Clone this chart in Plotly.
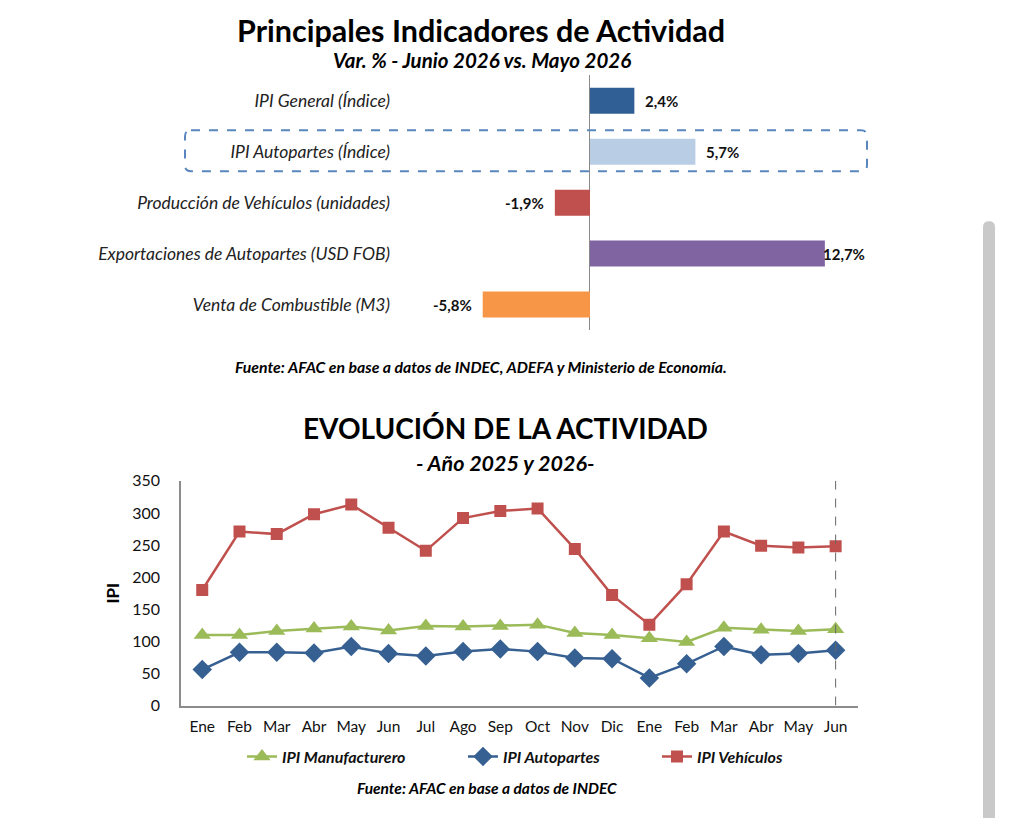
import plotly.graph_objects as go

# the photo keeps an 8px page margin left and ~18px on top and squeezes height a bit
W, H = 998, 819
XOFF, YOFF, YSCALE = 8, 18, 0.978

# --- top chart data: Var. % Junio 2026 vs Mayo 2026
indicadores = [
    "IPI General (Índice)",
    "IPI Autopartes (Índice)",
    "Producción de Vehículos (unidades)",
    "Exportaciones de Autopartes (USD FOB)",
    "Venta de Combustible (M3)",
]
variaciones = [2.4, 5.7, -1.9, 12.7, -5.8]
bar_colors = ["#2F5F95", "#B9CDE5", "#C0504D", "#8064A2", "#F79646"]

# --- bottom chart data: monthly IPI 2025-2026
meses = ["Ene", "Feb", "Mar", "Abr", "May", "Jun", "Jul", "Ago", "Sep", "Oct",
         "Nov", "Dic", "Ene", "Feb", "Mar", "Abr", "May", "Jun"]
ipi_manufacturero = [110, 110, 116, 120, 123, 117, 124, 123, 124, 126,
                     113, 110, 105, 99, 121, 118, 116, 119]
ipi_autopartes = [56, 83, 83, 82, 92, 81, 77, 84, 88, 84,
                  74, 73, 43, 65, 92, 79, 81, 86]
ipi_vehiculos = [180, 271, 267, 298, 313, 277, 241, 292, 303, 307,
                 244, 172, 126, 189, 271, 249, 246, 248]


def px(x):
    # screen pixel -> paper fraction
    return (x - XOFF) / W


def py(y):
    return 1 - (y / YSCALE - YOFF) / H


FONT = "Lato"
fig = go.Figure()

# top bars
fig.add_trace(go.Bar(
    x=variaciones, y=indicadores, orientation="h",
    marker=dict(color=bar_colors, line_width=0),
    xaxis="x", yaxis="y", showlegend=False, hoverinfo="x+y",
))

# value labels next to bars
for v, name in zip(variaciones, indicadores):
    lbl = f"{v:.1f}%".replace(".", ",")
    fig.add_annotation(
        x=v, y=name, xref="x", yref="y", text=f"<b>{lbl}</b>",
        showarrow=False, xanchor="left" if v >= 0 else "right",
        xshift=(9 if v < 10 else -4) if v >= 0 else -9,
        font=dict(family=FONT, size=15, color="#111"),
    )

# bottom lines, each with its own legend so entries sit where the original has them
x_idx = list(range(len(meses)))
series = [
    ("IPI Manufacturero", ipi_manufacturero, "#9BBB59", "triangle-up", 15, "legend", 248),
    ("IPI Autopartes", ipi_autopartes, "#376092", "diamond", 15, "legend2", 469),
    ("IPI Vehículos", ipi_vehiculos, "#C0504D", "square", 12, "legend3", 663),
]
legends = {}
for name, vals, col, sym, sz, leg, lx in series:
    fig.add_trace(go.Scatter(
        x=x_idx, y=vals, mode="lines+markers", name=f"<b><i>{name}</i></b>",
        line=dict(color=col, width=2.5),
        marker=dict(symbol=sym, size=sz, color=col),
        xaxis="x2", yaxis="y2", legend=leg,
    ))
    legends[leg] = dict(orientation="h", x=px(lx - 6), xanchor="left",
                        y=py(757), yanchor="middle", bgcolor="rgba(0,0,0,0)",
                        font=dict(family=FONT, size=16, color="#111"))

# last-month dashed marker line
fig.add_shape(type="line", xref="x2", yref="y2",
              x0=x_idx[-1], x1=x_idx[-1], y0=0, y1=350,
              line=dict(color="#666", width=1, dash="dash"))

# rounded dashed box around IPI Autopartes row
x0, x1, y0, y1, r = 185, 867, 130, 171, 6
path = (f"M {px(x0 + r)} {py(y0)} L {px(x1 - r)} {py(y0)} "
        f"Q {px(x1)} {py(y0)} {px(x1)} {py(y0 + r)} L {px(x1)} {py(y1 - r)} "
        f"Q {px(x1)} {py(y1)} {px(x1 - r)} {py(y1)} L {px(x0 + r)} {py(y1)} "
        f"Q {px(x0)} {py(y1)} {px(x0)} {py(y1 - r)} L {px(x0)} {py(y0 + r)} "
        f"Q {px(x0)} {py(y0)} {px(x0 + r)} {py(y0)} Z")
fig.add_shape(type="path", xref="paper", yref="paper", path=path,
              line=dict(color="#5A86BE", width=2, dash="dash"))

# scrollbar from the screenshot
sx0, sx1, sy0 = 983, 995, 221
spath = (f"M {px(sx0)} 0 L {px(sx0)} {py(sy0 + 6)} "
         f"Q {px(sx0)} {py(sy0)} {px((sx0 + sx1) / 2)} {py(sy0)} "
         f"Q {px(sx1)} {py(sy0)} {px(sx1)} {py(sy0 + 6)} L {px(sx1)} 0 Z")
fig.add_shape(type="path", xref="paper", yref="paper", path=spath,
              fillcolor="#C9C9C9", line_width=0)

texts = [
    ("<b>Principales Indicadores de Actividad</b>", 481, 30, 30.5),
    ("<b><i>Var. % - Junio 2026 vs. Mayo 2026</i></b>", 482, 60, 20.5),
    ("<b><i>Fuente: AFAC en base a datos de INDEC, ADEFA y Ministerio de Economía.</i></b>", 481, 367, 15.8),
    ("<b>EVOLUCIÓN DE LA ACTIVIDAD</b>", 505, 428, 28),
    ("<b><i>- Año 2025 y 2026-</i></b>", 505, 463, 21.5),
    ("<b><i>Fuente: AFAC en base a datos de INDEC</i></b>", 487, 789, 15.5),
]
for t, x, y, s in texts:
    fig.add_annotation(text=t, x=px(x), y=py(y), xref="paper", yref="paper",
                       showarrow=False, xanchor="center", yanchor="middle",
                       font=dict(family=FONT, size=s, color="#000"))

fig.update_layout(
    width=W, height=H,
    margin=dict(l=0, r=0, t=0, b=0),
    paper_bgcolor="white", plot_bgcolor="white",
    font=dict(family=FONT, color="#111"),
    bargap=0.49,
    xaxis=dict(domain=[px(398), px(870)], range=[-10.38, 15.14],
               showticklabels=False, showgrid=False,
               zeroline=True, zerolinecolor="#8A8A8A", zerolinewidth=1),
    yaxis=dict(domain=[py(330), py(75)], anchor="x", autorange="reversed",
               showgrid=False, ticks="", ticklabelstandoff=7,
               tickfont=dict(family=FONT, size=17.5, color="#222", style="italic")),
    xaxis2=dict(domain=[px(181), px(858)], anchor="y2", range=[-0.57, 17.6],
                tickvals=x_idx, ticktext=meses, showgrid=False, zeroline=False,
                showline=True, linecolor="#8C8C8C", linewidth=1.5,
                ticklabelstandoff=6,
                tickfont=dict(family=FONT, size=15.5, color="#111")),
    yaxis2=dict(domain=[py(706), py(481)], anchor="x2", range=[0, 350],
                dtick=50, showgrid=False, zeroline=False,
                showline=True, linecolor="#8C8C8C", linewidth=1.5,
                ticklabelstandoff=16,
                tickfont=dict(family=FONT, size=16, color="#111"),
                title=dict(text="<b>IPI</b>", standoff=8,
                           font=dict(family=FONT, size=17, color="#000"))),
    **legends,
)

fig.write_html("out.html")
